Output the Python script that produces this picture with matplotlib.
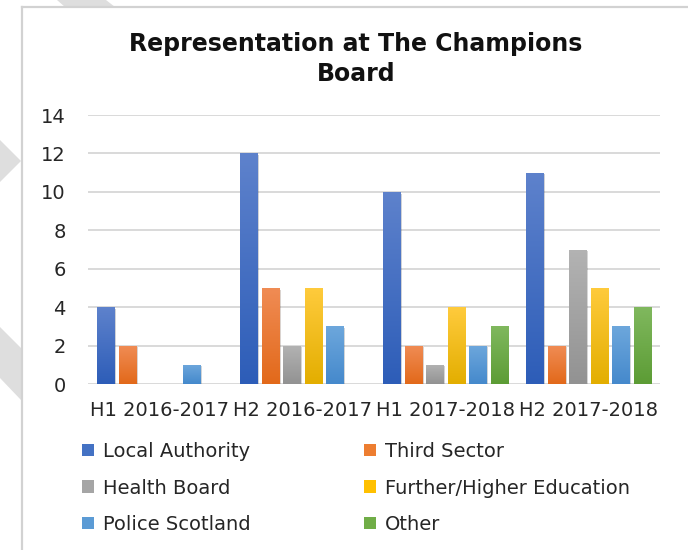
import numpy as np
import matplotlib
matplotlib.use("Agg")
import matplotlib.pyplot as plt
from matplotlib.colors import LinearSegmentedColormap
from matplotlib.patches import Polygon, Patch
from matplotlib.lines import Line2D
import matplotlib.patheffects as pe

plt.rcParams['font.family'] = ['DejaVu Sans']

# data
periods = ["H1 2016-2017", "H2 2016-2017", "H1 2017-2018", "H2 2017-2018"]
series = ["Local Authority", "Third Sector", "Health Board",
          "Further/Higher Education", "Police Scotland", "Other"]
local_authority = [4, 12, 10, 11]
third_sector = [2, 5, 2, 2]
health_board = [0, 2, 1, 7]
further_higher_ed = [0, 5, 4, 5]
police_scotland = [1, 3, 2, 3]
other = [0, 0, 3, 4]
values = [local_authority, third_sector, health_board,
          further_higher_ed, police_scotland, other]

base_colors = ["#4472C4", "#ED7D31", "#A5A5A5", "#FFC000", "#5B9BD5", "#70AD47"]
top_colors = ["#5E82CC", "#F08C55", "#B3B3B3", "#FFCB3D", "#6DA7DC", "#80B85E"]
bot_colors = ["#2D5DB8", "#E2691A", "#929292", "#E3AE00", "#4589CC", "#5C9C35"]

W, H = 688, 550
fig = plt.figure(figsize=(W / 100, H / 100), dpi=100)
fig.patch.set_facecolor("white")

# watermark bits peeking out around the chart box
def px(pts):
    return [(x / W, 1 - y / H) for x, y in pts]

wm = "#DEDEDE"
for pts in [[(0, 140), (21, 161), (0, 182)],
            [(0, 327), (21, 348), (21, 400), (0, 378)],
            [(57, 0), (106, 0), (115, 7), (65, 7)]]:
    fig.patches.append(Polygon(px(pts), closed=True, transform=fig.transFigure,
                               facecolor=wm, edgecolor="none"))

# chart border
fig.lines.append(Line2D([22 / W, 22 / W], [1 - 7 / H, 0], transform=fig.transFigure,
                        color="#D2D2D2", lw=1.6))
fig.lines.append(Line2D([22 / W, 1], [1 - 7 / H, 1 - 7 / H], transform=fig.transFigure,
                        color="#D2D2D2", lw=1.6))

ax = fig.add_axes([88 / W, 1 - 384 / H, (660 - 88) / W, (384 - 115) / H])
ax.set_facecolor("none")

x = np.arange(len(periods))
slot = 0.15
width = 0.12
grad = np.linspace(0, 1, 256).reshape(-1, 1)

for i, (name, vals) in enumerate(zip(series, values)):
    offs = x + (i - 2.5) * slot
    bars = ax.bar(offs, vals, width=width, color=base_colors[i], zorder=2,
                  path_effects=[pe.SimplePatchShadow(offset=(1.2, -1.2), alpha=0.2),
                                pe.Normal()])
    cmap = LinearSegmentedColormap.from_list(name, [bot_colors[i], top_colors[i]])
    for b in bars:
        h = b.get_height()
        if h <= 0:
            continue
        x0 = b.get_x()
        im = ax.imshow(grad, extent=[x0, x0 + width, 0, h], origin="lower",
                       aspect="auto", cmap=cmap, zorder=3)
        im.set_clip_path(b)

ax.set_xlim(-0.5, len(periods) - 0.5)
ax.set_ylim(0, 14)
ax.set_yticks(range(0, 15, 2))
ax.set_xticks(x)
ax.set_xticklabels(periods)
ax.grid(axis="y", color="#D9D9D9", lw=1.4, zorder=0)
ax.set_axisbelow(True)
for s in ax.spines.values():
    s.set_visible(False)
ax.tick_params(axis="both", length=0, labelsize=14, colors="#262626")
ax.tick_params(axis="y", pad=16)
ax.tick_params(axis="x", pad=12)

fig.text(356 / W, 1 - 59 / H, "Representation at The Champions\nBoard",
         ha="center", va="center", fontsize=17, fontweight="bold",
         color="#111111", linespacing=1.3)

handles = [Patch(facecolor=c, edgecolor="none") for c in base_colors]
leg_kw = dict(frameon=False, fontsize=14, handlelength=0.62, handleheight=0.62,
              handletextpad=0.45, labelspacing=0.9, borderpad=0, borderaxespad=0,
              labelcolor="#262626")
fig.legend([handles[0], handles[2], handles[4]], [series[0], series[2], series[4]],
           loc="upper left", bbox_to_anchor=(82 / W, 1 - 442 / H), **leg_kw)
fig.legend([handles[1], handles[3], handles[5]], [series[1], series[3], series[5]],
           loc="upper left", bbox_to_anchor=(364 / W, 1 - 442 / H), **leg_kw)

fig.savefig("out.png", dpi=100)
